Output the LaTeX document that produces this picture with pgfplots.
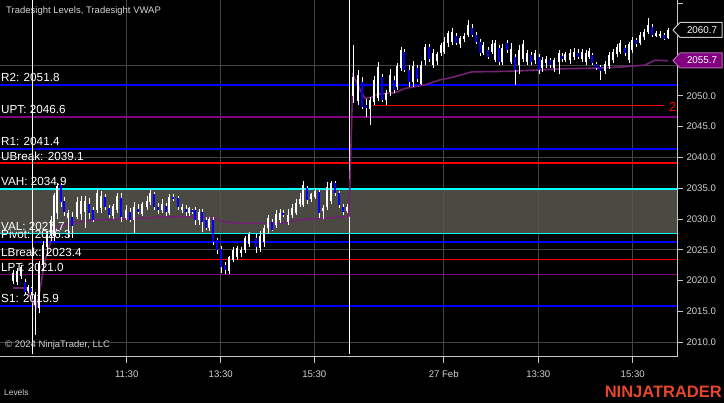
\documentclass[border=0pt]{standalone}
\usepackage{fontspec}
\setmainfont{Liberation Sans}
\usepackage{pgfplots}
\pgfplotsset{compat=1.18}
\usepackage{pgfplotstable}

\definecolor{gridc}{HTML}{444444}
\definecolor{axc}{HTML}{C8C8C8}
\definecolor{txt}{HTML}{D2D2D2}
\definecolor{lvblue}{HTML}{0000FF}
\definecolor{lvpurple}{HTML}{800080}
\definecolor{lvred}{HTML}{FF0000}
\definecolor{lvcyan}{HTML}{00FFFF}
\definecolor{vafill}{HTML}{58574E}
\definecolor{vwapc}{HTML}{722272}
\definecolor{ninja}{HTML}{E8462A}

% up candles: x o h l c  (x in chart pixels)
\pgfplotstableread{
x o h l c
13 2020 2021.8 2019.5 2021.3
17 2019.8 2022 2019.3 2021.5
21 2020.8 2022.5 2020.3 2022.2
28 2018.3 2019.3 2018 2019
35 2016 2018.2 2011.2 2017.5
39 2015.5 2023.2 2014.8 2022.8
43 2022.5 2026.5 2021.5 2025.8
47 2025.5 2028 2024 2027.4
51 2027.4 2030.5 2026.5 2029.9
54 2027.2 2034.3 2026.5 2033.9
57 2031 2035.9 2030 2035.3
68 2030.2 2031.5 2027.1 2031
77 2030.4 2033.5 2030 2032.8
81 2030.8 2033.8 2029.9 2033
85 2031.2 2033.8 2028.5 2033
97 2031.5 2034.8 2031 2034.2
101 2031.8 2034.5 2031 2033.8
113 2030.5 2032.5 2030 2032.1
117 2031.5 2034.2 2031 2033.8
126 2030.2 2032.3 2029.8 2031.5
134 2029.8 2032.8 2027.7 2032
142 2030.8 2032.8 2030.5 2032.4
147 2032 2033.8 2031.5 2033
150 2032.8 2034.8 2032.2 2034.2
162 2031.5 2033.2 2031 2032.5
169 2031 2034 2030.6 2033.6
182 2031.5 2032.5 2031 2031.9
189 2031 2032 2030.5 2031.8
199 2029.9 2031.6 2029 2031.2
209 2028.6 2030.4 2028 2030
229 2021.5 2024 2021 2023.8
233 2023.3 2025.5 2023 2025
237 2023.8 2025.6 2023.3 2025.3
241 2024.5 2025.5 2023.8 2025
245 2025 2027.2 2024.5 2027
249 2026 2027.9 2025.5 2027.5
260 2025.3 2028 2024.7 2027.3
264 2026.3 2029 2025.5 2028.5
268 2028.6 2030.6 2027.5 2030.2
276 2029 2031.4 2028.5 2030.8
280 2029.9 2031.6 2029.4 2031
288 2029.5 2031.6 2029 2030.6
292 2030.6 2032.5 2030.2 2031.8
296 2031 2033.2 2030.6 2032.6
300 2032.5 2034.2 2032 2033.2
303 2032.3 2036.2 2032 2035.6
311 2033.2 2034.3 2032.8 2034
315 2033.5 2035 2033.2 2034.6
323 2031.3 2032.3 2030 2031.8
327 2032 2036 2031.5 2035.2
331 2033 2036.2 2032.5 2035.8
347 2031.3 2032.4 2031 2032
353 2050 2058.2 2048.8 2053
358 2049.2 2054.2 2048.5 2053.4
370 2047.8 2049.8 2045.3 2049.3
374 2049 2053.2 2048.5 2052.5
378 2049.7 2055.5 2049.2 2054.7
386 2049.3 2051 2048.5 2050.5
390 2050.6 2054.3 2050 2053.4
397 2051.5 2055.3 2051 2054.8
401 2054.5 2058 2054 2057.5
413 2052.3 2055.6 2051.5 2054.8
421 2052 2055.6 2051.8 2055
425 2055.8 2058.5 2055 2058
433 2055 2057.6 2054.5 2057
437 2055.6 2057.2 2055 2056.8
441 2057 2058.6 2056.5 2058.3
444 2057.2 2059.5 2056.8 2058.8
448 2058.6 2060.6 2058 2060.2
452 2058.8 2061 2058.2 2060.4
460 2058.4 2059.8 2057.8 2059.4
464 2059.2 2060.2 2058.8 2059.8
468 2059.9 2062.3 2059.5 2061.5
483 2057 2058.8 2056.6 2058.3
492 2057.2 2059 2056.8 2058.5
495 2055.8 2059 2055.5 2058.6
502 2055.5 2058.5 2055 2057.8
511 2055.5 2058.6 2055.2 2057.6
519 2055 2058.3 2053.5 2057.5
523 2056 2059 2055.5 2058.5
527 2055.5 2057.5 2055 2057
535 2055.8 2057.5 2055.2 2057
542 2054.5 2056.3 2053.8 2055.8
546 2055.3 2056.5 2054.6 2056
554 2054.5 2056.2 2053.8 2055.8
559 2055.5 2057.5 2053.5 2057
565 2055.8 2057.2 2055.5 2056.8
570 2055.8 2057.6 2055.2 2057
574 2056.3 2057.7 2055.8 2057.2
582 2056 2057.6 2055.5 2057.2
586 2055.5 2057.4 2055 2057
589 2056.3 2057.8 2056 2057.3
605 2054 2055.6 2053.5 2055.2
609 2054.8 2057.2 2054.3 2056.6
613 2055.8 2057.6 2055.3 2057.2
617 2056.8 2058.5 2056.3 2058
620 2057.2 2059 2056.8 2058.6
629 2055.8 2058.8 2055.3 2058.4
632 2057.5 2059.6 2057 2059
640 2058.6 2060.3 2058.2 2059.9
644 2059.5 2060.8 2059 2060.3
648 2060.4 2062.6 2060 2061.5
656 2059.8 2060.6 2059.5 2060.2
660 2059.8 2060.5 2059.4 2060.1
668 2059.4 2061 2059.2 2060.7
}\up

% down candles
\pgfplotstableread{
x o h l c
25 2019.8 2020.2 2017.8 2018.2
31 2018.8 2019 2017.8 2018.2
61 2035.5 2035.9 2032 2032.8
64 2033 2033.6 2030.5 2031.1
72 2030.4 2031.2 2027 2028.8
89 2032.5 2033.4 2030 2031
93 2031.5 2032 2029.5 2029.9
105 2033.5 2034 2031.5 2032
109 2031.8 2032.2 2030.2 2030.6
121 2033.4 2034.3 2029.6 2030.4
130 2031.1 2031.8 2029.5 2029.9
138 2031.7 2032.5 2030.8 2031.1
154 2034 2034.4 2031.5 2032
158 2032 2032.6 2030.8 2031.5
166 2032.1 2032.6 2030.5 2031.2
173 2033.6 2034 2033 2033.3
178 2033.4 2033.8 2031.5 2032
186 2031.6 2032.3 2030.5 2031.2
192 2031.4 2031.6 2030.8 2031.1
195 2031.5 2032 2029 2029.9
202 2031.1 2031.6 2027.9 2029.5
206 2029.9 2030.3 2028.2 2028.6
213 2029.9 2030.4 2025.8 2026.3
217 2026.6 2027 2024.4 2025
221 2025.2 2025.6 2021.2 2022.2
225 2022.5 2023 2021 2021.8
256 2027 2027.5 2024.5 2025.5
272 2029.5 2030 2028 2028.2
283 2031 2031.5 2030.3 2030.7
307 2035 2035.3 2032.5 2033.1
319 2034.4 2034.8 2030.2 2031
335 2035.9 2036.2 2033.8 2034.2
339 2034.2 2034.6 2031.8 2032.3
343 2032 2032.5 2030.6 2031.1
362 2052.3 2053 2047.8 2048.2
366 2048.5 2049.5 2046.5 2048
382 2053 2053.5 2049 2049.3
394 2052.6 2053.2 2050.5 2051
404 2057.2 2057.6 2053.8 2054.2
409 2054.2 2055 2051.5 2052.3
417 2054.5 2055 2052.2 2052.8
429 2058 2058.4 2055.5 2056
456 2059.8 2060.2 2058.3 2058.6
472 2061 2061.6 2059.5 2059.9
476 2059.9 2060.3 2058.5 2058.8
480 2058.8 2059.2 2056.5 2057
488 2057.5 2058 2056 2056.3
499 2057.7 2058.2 2055 2055.5
507 2058.6 2059 2057 2057.5
515 2056.3 2056.8 2051.8 2054.2
531 2056.6 2057.2 2055 2055.5
539 2056.3 2056.8 2053.6 2054.2
550 2055.8 2056.2 2054.6 2055
562 2056.5 2057 2055.5 2056
578 2057 2057.6 2056 2056.3
592 2056.6 2057 2055 2055.3
596 2055.2 2055.5 2054.2 2054.6
600 2054.7 2055 2052.6 2054
625 2057.8 2058.3 2056.5 2057
636 2059 2059.4 2058 2058.5
652 2061.2 2061.6 2059.5 2059.9
664 2059.9 2060.2 2059 2059.3
}\dn

\begin{document}
\begin{tikzpicture}
\fill[black] (0,0) rectangle (724pt,403pt);
\begin{axis}[
  at={(0pt,46pt)}, anchor=south west,
  scale only axis, width=677pt, height=357pt,
  xmin=0, xmax=677, ymin=2007.6, ymax=2065.57,
  clip=false,
  axis x line*=bottom, axis y line*=right,
  axis line style={axc, line width=1pt},
  tick align=outside, major tick length=6pt, minor tick length=6pt,
  tick style={axc, line width=1pt},
  xtick={126.7,220.7,314.3,443.7,538.3,632.7},
  xticklabels={11:30,13:30,15:30,27 Feb,13:30,15:30},
  xmajorgrids,
  grid style={gridc, line width=1pt},
  ytick={2010,2015,...,2050},
  minor ytick={2055,2060,2065},
  yticklabel={\pgfmathprintnumber[fixed,fixed zerofill,precision=1,1000 sep={}]{\tick}},
  extra y ticks={2010,2025,2040,2055},
  extra y tick labels={},
  extra y tick style={grid=major, major tick length=0pt},
  /pgf/number format/assume math mode=true,
  ticklabel style={text=txt, font=\fontsize{9.6}{11}\selectfont},
  xticklabel style={yshift=-4pt},
  candle/.style={draw=none, mark=none, forget plot,
    error bars/y dir=minus, error bars/y explicit, error bars/error mark=none},
]
% value area
\addplot[draw=none, fill=vafill, fill opacity=0.85, forget plot] coordinates {(0,2027.7) (677,2027.7) (677,2034.9) (0,2034.9)} -- cycle;

% level lines
\addplot[lvblue, line width=1.8pt] coordinates {(0,2051.8) (677,2051.8)};
\addplot[lvpurple, line width=1.4pt] coordinates {(0,2046.6) (677,2046.6)};
\addplot[lvblue, line width=1.8pt] coordinates {(0,2041.4) (677,2041.4)};
\addplot[lvred, line width=1.6pt] coordinates {(0,2039.1) (677,2039.1)};
\addplot[lvcyan, line width=1.4pt] coordinates {(0,2034.9) (677,2034.9)};
\addplot[lvcyan, line width=1.4pt] coordinates {(0,2027.7) (677,2027.7)};
\addplot[lvblue, line width=1.8pt] coordinates {(0,2026.3) (677,2026.3)};
\addplot[lvred, line width=1.4pt] coordinates {(0,2023.4) (677,2023.4)};
\addplot[lvpurple, line width=1.4pt] coordinates {(0,2021.0) (677,2021.0)};
\addplot[lvblue, line width=1.8pt] coordinates {(0,2015.9) (677,2015.9)};
\addplot[lvred, line width=1.2pt] coordinates {(373,2048.4) (664,2048.4)};

% session breaks
\addplot[white, line width=1pt] coordinates {(32.5,2008.1) (32.5,2065.57)};
\addplot[white, line width=1pt] coordinates {(349,2008.1) (349,2065.57)};

% VWAP
\addplot[vwapc, line width=1.6pt] coordinates {
(13,2018.8) (27,2018.8) (30,2017.5) (36,2015.6) (40,2018.5) (44,2022.5) (48,2025)
(52,2027) (56,2028.3) (62,2029) (70,2029.3) (90,2029.8) (120,2030) (160,2030.3)
(190,2030.4) (212,2030.2) (225,2029.5) (245,2029.3) (280,2029.3) (300,2029.9)
(330,2030.2) (346,2030.4) (349,2030.5) (353,2053.4) (360,2051) (365,2049.6)
(372,2049.8) (378,2050.3) (395,2050.5) (405,2051.2) (425,2051.8) (440,2052.6)
(452,2053) (472,2053.9) (512,2054) (562,2054.4) (595,2054.5) (622,2054.7)
(645,2055) (650,2055.4) (655,2055.8) (668,2055.7)};

% wicks
\addplot[candle, error bars/error bar style={draw=white, line width=1pt}]
  table[x=x, y=h, y error expr=\thisrow{h}-\thisrow{l}] {\up};
\addplot[candle, error bars/error bar style={draw=white, line width=1pt}]
  table[x=x, y=h, y error expr=\thisrow{h}-\thisrow{l}] {\dn};
% bodies
\addplot[candle, error bars/error bar style={draw=white, line width=2.4pt}]
  table[x=x, y=c, y error expr=\thisrow{c}-\thisrow{o}] {\up};
\addplot[candle, error bars/error bar style={draw=lvblue, line width=2.4pt}]
  table[x=x, y=o, y error expr=\thisrow{o}-\thisrow{c}] {\dn};

% level labels
\begin{scope}[every node/.style={anchor=base west, inner sep=0pt, text=white, font=\fontsize{11.7}{13}\selectfont, yshift=3pt}]
\node at (axis cs:1,2051.8) {R2: 2051.8};
\node at (axis cs:1,2046.6) {UPT: 2046.6};
\node at (axis cs:1,2041.4) {R1: 2041.4};
\node at (axis cs:1,2039.1) {UBreak: 2039.1};
\node at (axis cs:1,2034.9) {VAH: 2034.9};
\node at (axis cs:1,2027.7) {VAL: 2027.7};
\node at (axis cs:1,2026.3) {Pivot: 2026.3};
\node at (axis cs:1,2023.4) {LBreak: 2023.4};
\node at (axis cs:1,2021.0) {LPT: 2021.0};
\node at (axis cs:1,2015.9) {S1: 2015.9};
\end{scope}
\end{axis}

% annotations in page pixels (y from bottom)
\node[anchor=west, inner sep=0pt, text=txt, font=\fontsize{9.5}{11}\selectfont] at (6pt,392pt) {Tradesight Levels, Tradesight VWAP};
\node[anchor=west, inner sep=0pt, text=txt, font=\fontsize{9.5}{11}\selectfont] at (5pt,58pt) {© 2024 NinjaTrader, LLC};
\node[anchor=west, inner sep=0pt, text=txt, font=\fontsize{8.4}{10}\selectfont] at (4pt,10pt) {Levels};
\node[anchor=east, inner sep=0pt, text=ninja, font=\bfseries\fontsize{16.5}{18}\selectfont] at (722pt,11pt) {NINJATRADER};
\node[anchor=west, inner sep=0pt, text=lvred, font=\fontsize{13}{15}\selectfont] at (669pt,296pt) {2};

% price markers
\filldraw[fill=black, draw=axc, line width=1pt] (673pt,373pt) -- (680pt,380.5pt) -- (722pt,380.5pt) -- (722pt,365.5pt) -- (680pt,365.5pt) -- cycle;
\node[text=white, inner sep=0pt, font=\fontsize{9.8}{11}\selectfont] at (702pt,373pt) {2060.7};
\filldraw[fill=lvpurple, draw=lvpurple!60!white, line width=1pt] (673pt,342.5pt) -- (680pt,350pt) -- (722pt,350pt) -- (722pt,335pt) -- (680pt,335pt) -- cycle;
\node[text=white, inner sep=0pt, font=\fontsize{9.8}{11}\selectfont] at (702pt,342.5pt) {2055.7};

\pgfresetboundingbox
\useasboundingbox (0,0) rectangle (724pt,403pt);
\end{tikzpicture}
\end{document}
